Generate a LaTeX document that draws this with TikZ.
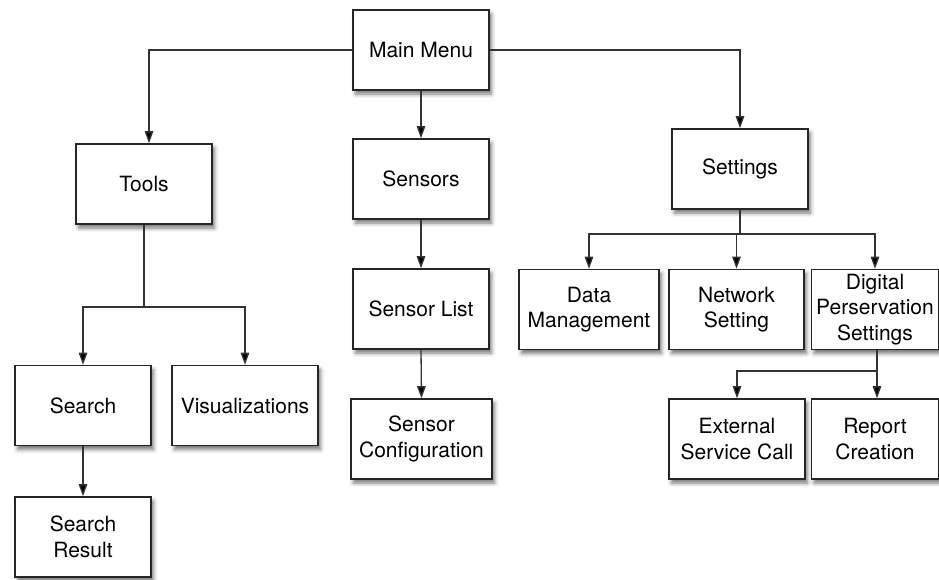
\documentclass[tikz,border=0pt]{standalone}
\usepackage{fontspec}
\setmainfont{TeX Gyre Heros}
\usetikzlibrary{arrows.meta,shadows.blur}
\begin{document}
\begin{tikzpicture}[x=1pt,y=-1pt,
  box/.style={draw=black!85, line width=1.6pt, fill=white, inner sep=0pt, align=center,
    minimum height=80pt, font=\fontsize{21}{25.5}\selectfont,
    blur shadow={shadow xshift=2.5pt, shadow yshift=-4pt, shadow blur radius=4pt, shadow opacity=55}},
  link/.style={draw=black!80, line width=1.3pt},
  arr/.style={link, -{Triangle[width=8.5pt,length=12pt,fill=black]}}]
\useasboundingbox (0,0) rectangle (939,579);
% nodes
\node[box, minimum width=136pt] (main) at (421,50) {Main Menu};
\node[box, minimum width=136pt] (tools) at (144,184) {Tools};
\node[box, minimum width=136pt] (sensors) at (421,179) {Sensors};
\node[box, minimum width=136pt] (settings) at (740,169) {Settings};
\node[box, minimum width=136pt] (senslist) at (421,309) {Sensor List};
\node[box, minimum width=141pt] (sensconf) at (421.5,439) {Sensor\\Configuration};
\node[box, minimum width=140pt] (data) at (589,309.5) {Data\\Management};
\node[box, minimum width=135pt] (network) at (736.5,309.5) {Network\\Setting};
\node[box, minimum width=127pt] (digital) at (875,309.5) {Digital\\Perservation\\Settings};
\node[box, minimum width=136pt] (ext) at (737,439) {External\\Service Call};
\node[box, minimum width=127pt] (report) at (875,439) {Report\\Creation};
\node[box, minimum width=136pt] (search) at (83,405.5) {Search};
\node[box, minimum width=146pt] (vis) at (245,405.5) {Visualizations};
\node[box, minimum width=136pt] (sresult) at (83,537) {Search\\Result};
% connectors
\draw[arr] (main.west) -| ([xshift=5pt]tools.north);
\draw[arr] (main.east) -| (settings.north);
\draw[arr] (main.south) -- (sensors.north);
\draw[arr] (sensors.south) -- (senslist.north);
\draw[arr] (senslist.south) -- (sensconf.north);
\coordinate (sb) at (740,234);
\draw[link] (settings.south) -- (sb);
\draw[arr] (sb) -| (data.north);
\draw[arr] (sb) -| (network.north);
\draw[arr] (sb) -| (digital.north);
\coordinate (tb) at (144,307);
\draw[link] (tools.south) -- (tb);
\draw[arr] (tb) -| (search.north);
\draw[arr] (tb) -| (vis.north);
\draw[arr] (search.south) -- (sresult.north);
\coordinate (db) at (877,371);
\draw[link] ([xshift=2pt]digital.south) -- (db);
\draw[arr] (db) -| (ext.north);
\draw[arr] ([xshift=2pt]digital.south) -- ([xshift=2pt]report.north);
\end{tikzpicture}
\end{document}
